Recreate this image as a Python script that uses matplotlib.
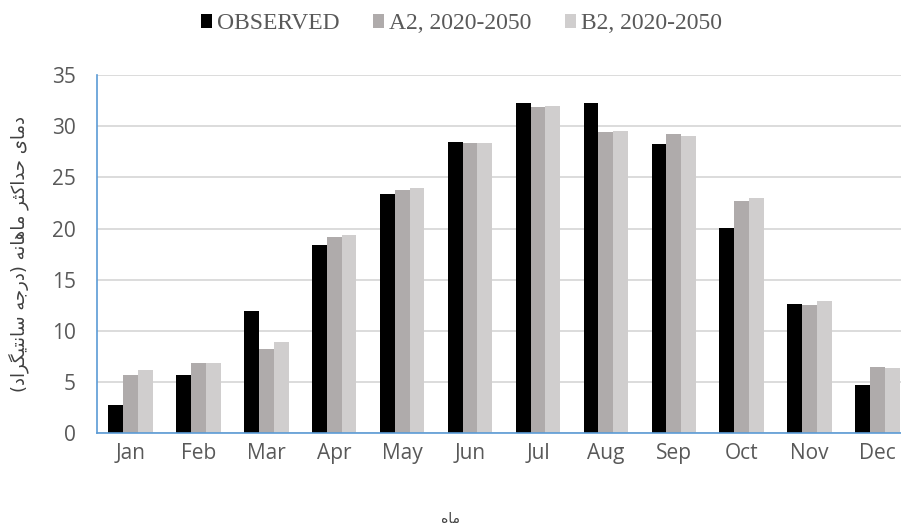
import numpy as np
import matplotlib.pyplot as plt

months = ['Jan', 'Feb', 'Mar', 'Apr', 'May', 'Jun', 'Jul', 'Aug', 'Sep', 'Oct', 'Nov', 'Dec']
observed = [2.8, 5.7, 11.9, 18.4, 23.4, 28.5, 32.3, 32.3, 28.3, 20.1, 12.6, 4.7]
a2_2020_2050 = [5.7, 6.9, 8.2, 19.2, 23.8, 28.4, 31.9, 29.4, 29.2, 22.7, 12.5, 6.5]
b2_2020_2050 = [6.2, 6.9, 8.9, 19.4, 24.0, 28.4, 32.0, 29.5, 29.0, 23.0, 12.9, 6.4]
series_names = ['OBSERVED', 'A2, 2020-2050', 'B2, 2020-2050']
y_label = 'دمای حداکثر ماهانه (درجه سانتیگراد)'
x_label = 'ماه'

# matplotlib has no arabic shaping, so pick presentation forms by hand
# letter: (isolated, final, initial, medial); right-joining letters have only 2
FORMS = {
    'ا': (0xFE8D, 0xFE8E), 'د': (0xFEA9, 0xFEAA), 'ر': (0xFEAD, 0xFEAE),
    'ح': (0xFEA1, 0xFEA2, 0xFEA3, 0xFEA4), 'ج': (0xFE9D, 0xFE9E, 0xFE9F, 0xFEA0),
    'ث': (0xFE99, 0xFE9A, 0xFE9B, 0xFE9C), 'ت': (0xFE95, 0xFE96, 0xFE97, 0xFE98),
    'س': (0xFEB1, 0xFEB2, 0xFEB3, 0xFEB4), 'م': (0xFEE1, 0xFEE2, 0xFEE3, 0xFEE4),
    'ن': (0xFEE5, 0xFEE6, 0xFEE7, 0xFEE8), 'ه': (0xFEE9, 0xFEEA, 0xFEEB, 0xFEEC),
    'ی': (0xFBFC, 0xFBFD, 0xFBFE, 0xFBFF), 'ک': (0xFB8E, 0xFB8F, 0xFB90, 0xFB91),
    'گ': (0xFB92, 0xFB93, 0xFB94, 0xFB95),
}


def shape_rtl(text):
    out = []
    for i, ch in enumerate(text):
        if ch not in FORMS:
            out.append(ch)
            continue
        prev = text[i - 1] if i > 0 else ''
        nxt = text[i + 1] if i + 1 < len(text) else ''
        join_prev = prev in FORMS and len(FORMS[prev]) == 4
        join_next = nxt in FORMS and len(FORMS[ch]) == 4
        f = FORMS[ch]
        if join_prev and join_next:
            code = f[3]
        elif join_prev:
            code = f[1]
        elif join_next:
            code = f[2]
        else:
            code = f[0]
        out.append(chr(code))
    vis = ''.join(reversed(out))
    return vis.translate(str.maketrans('()', ')('))


text_gray = '#595959'
colors = ['#000000', '#AFABAB', '#D0CECE']

fig = plt.figure(figsize=(9.01, 5.32), dpi=100)
ax = fig.add_axes([96.7 / 901, 98.7 / 532, 814.6 / 901, 358.3 / 532])

x = np.arange(len(months))
w = 0.218
for k, (vals, name) in enumerate(zip([observed, a2_2020_2050, b2_2020_2050], series_names)):
    ax.bar(x + (k - 1) * w, vals, w, color=colors[k], label=name, zorder=3)

ax.set_xlim(-0.5, len(months) - 0.5)
ax.set_ylim(0, 35)
ax.set_yticks(np.arange(0, 36, 5))
ax.set_xticks(x)
ax.set_xticklabels(months)
ax.grid(axis='y', color='#D9D9D9', linewidth=1.3, zorder=0)
ax.tick_params(length=0, labelsize=15, labelcolor=text_gray)
ax.tick_params(axis='y', pad=15)
ax.tick_params(axis='x', pad=7)
for lab in ax.get_xticklabels() + ax.get_yticklabels():
    lab.set_fontfamily('Open Sans')
for s in ['top', 'right']:
    ax.spines[s].set_visible(False)
for s in ['left', 'bottom']:
    ax.spines[s].set_color('#5B9BD5')
    ax.spines[s].set_linewidth(1.2)
    ax.spines[s].set_zorder(4)

fig.text(0.021, (98.7 + 358.3 / 2) / 532, shape_rtl(y_label), rotation=90,
         ha='center', va='center', fontsize=13, color='#404040', family=['DejaVu Sans'])
fig.text(0.5, 0.025, shape_rtl(x_label), ha='center', va='center',
         fontsize=10, color='#404040', family=['DejaVu Sans'])

leg = fig.legend(loc='center', bbox_to_anchor=(0.512, 0.955), ncol=3, frameon=False,
                 handlelength=0.48, handleheight=0.48, handletextpad=0.21, columnspacing=1.4,
                 prop={'family': 'Liberation Serif', 'size': 17})
for t in leg.get_texts():
    t.set_color(text_gray)

fig.savefig('out.png', dpi=100)
